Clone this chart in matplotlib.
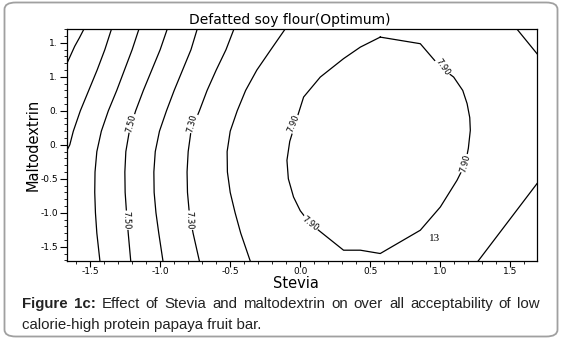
import matplotlib
matplotlib.use("Agg")
import matplotlib.pyplot as plt
from matplotlib.patches import FancyBboxPatch
from matplotlib.ticker import MultipleLocator, FixedLocator, FixedFormatter

# ---- data ----
title = "Defatted soy flour(Optimum)"
x_label = "Stevia"
y_label = "Maltodextrin"

x_ticks = [-1.5, -1.0, -0.5, 0.0, 0.5, 1.0, 1.5]
x_tick_labels = ["-1.5", "-1.0", "-0.5", "0.0", "0.5", "1.0", "1.5"]
y_ticks = [1.5, 1.0, 0.5, 0.0, -0.5, -1.0, -1.5]
y_tick_labels = ["1.", "1.", "0.", "0.", "-0.5", "-1.0", "-1.5"]

# contour lines (x = Stevia, y = Maltodextrin)
line1_x = [-1.545, -1.575, -1.61, -1.665]
line1_y = [1.70, 1.58, 1.45, 1.20]
line2_x = [-1.348, -1.395, -1.45, -1.51, -1.57, -1.62, -1.645, -1.665]
line2_y = [1.70, 1.40, 1.10, 0.80, 0.50, 0.20, 0.00, -0.08]
curve_y = [1.70, 1.40, 1.10, 0.80, 0.50, 0.20, -0.10, -0.40, -0.70, -1.00, -1.30, -1.71]
line3_x = [-1.152, -1.20, -1.255, -1.31, -1.37, -1.42, -1.452, -1.465, -1.467, -1.462, -1.452, -1.43]
line4_x = [-0.95, -1.00, -1.06, -1.12, -1.175, -1.22, -1.245, -1.252, -1.25, -1.24, -1.228, -1.21]
line5_x = [-0.736, -0.78, -0.84, -0.90, -0.955, -1.005, -1.035, -1.045, -1.043, -1.03, -1.01, -0.98]
line6_x = [-0.474, -0.53, -0.60, -0.665, -0.72, -0.78, -0.80, -0.808, -0.805, -0.792, -0.765, -0.72]
line7_x = [-0.109, -0.21, -0.31, -0.39, -0.45, -0.50, -0.522, -0.52, -0.50, -0.465, -0.425, -0.357]
ring_x = [0.571, 0.857, 1.0, 1.095, 1.16, 1.191, 1.21, 1.214, 1.20, 1.179, 1.119, 1.0, 0.857,
          0.571, 0.429, 0.309, 0.071, 0.0, -0.048, -0.085, -0.095, -0.075, -0.036, 0.024,
          0.143, 0.309, 0.429, 0.571]
ring_y = [1.585, 1.488, 1.144, 0.997, 0.80, 0.606, 0.40, 0.213, -0.05, -0.276, -0.522, -0.915, -1.257,
          -1.60, -1.551, -1.551, -1.159, -0.97, -0.768, -0.50, -0.228, 0.05, 0.312, 0.703,
          0.997, 1.268, 1.438, 1.585]
corner_ur_x = [1.548, 1.69]
corner_ur_y = [1.70, 1.341]
corner_lr_x = [1.69, 1.27]
corner_lr_y = [-0.571, -1.71]

label_texts = ["7.50", "7.50", "7.30", "7.30", "7.90", "7.90", "7.90", "7.90"]
label_x = [-1.205, -1.242, -0.775, -0.792, -0.05, 0.071, 1.02, 1.18]
label_y = [0.316, -1.11, 0.316, -1.11, 0.312, -1.159, 1.144, -0.276]
label_rot = [76, -88, 76, -88, 68, -38, -55, 75]

point_text = "13"
point_x = 0.96
point_y = -1.38

caption_bold = ["Figure", "1c:"]
caption_line1 = "Effect of Stevia and maltodextrin on over all acceptability of low"
caption_line2 = "calorie-high protein papaya fruit bar."

# ---- figure ----
W, H = 563, 341
fig = plt.figure(figsize=(W / 100, H / 100), dpi=100)
fig.patch.set_facecolor("white")

border = FancyBboxPatch((4.5 / W, 4.5 / H), (553 / W), (334 / H),
                        boxstyle="round,pad=0,rounding_size=0.02",
                        transform=fig.transFigure, facecolor="none",
                        edgecolor="#a0a0a0", linewidth=1.3)
fig.add_artist(border)

ax_h = (261 - 29.3) / H
ax = fig.add_axes([67 / W, 1 - 261 / H, 470 / W, ax_h])
ax.set_xlim(-1.665, 1.69)
ax.set_ylim(-1.71, 1.70)

lines = [(line1_x, line1_y), (line2_x, line2_y), (line3_x, curve_y),
         (line4_x, curve_y), (line5_x, curve_y), (line6_x, curve_y),
         (line7_x, curve_y), (ring_x, ring_y),
         (corner_ur_x, corner_ur_y), (corner_lr_x, corner_lr_y)]
for lx, ly in lines:
    ax.plot(lx, ly, color="black", lw=0.9, solid_joinstyle="round")

for t, x, y, r in zip(label_texts, label_x, label_y, label_rot):
    ax.text(x, y, t, rotation=r, rotation_mode="anchor", ha="center", va="center",
            fontsize=6, family="DejaVu Sans",
            bbox=dict(facecolor="white", edgecolor="none", pad=0.3))

ax.text(point_x, point_y, point_text, fontsize=8, family="Liberation Serif",
        ha="center", va="center")

ax.xaxis.set_major_locator(FixedLocator(x_ticks))
ax.xaxis.set_major_formatter(FixedFormatter(x_tick_labels))
ax.yaxis.set_major_locator(FixedLocator(y_ticks))
ax.yaxis.set_major_formatter(FixedFormatter(y_tick_labels))
ax.xaxis.set_minor_locator(MultipleLocator(0.1))
ax.yaxis.set_minor_locator(MultipleLocator(0.1))
ax.tick_params(which="major", direction="out", length=5, width=0.8,
               labelsize=6.5, pad=1.5, colors="black")
ax.tick_params(axis="x", which="major", length=4, pad=0.3)
ax.tick_params(which="minor", direction="out", length=2.5, width=0.6)
for lab in ax.get_xticklabels() + ax.get_yticklabels():
    lab.set_family("DejaVu Sans")
for s in ax.spines.values():
    s.set_linewidth(0.9)

ax.set_title(title, fontsize=10, family="DejaVu Sans", pad=4, x=0.474)
ax.set_xlabel(x_label, fontsize=10.5, family="DejaVu Sans", labelpad=0)
ax.xaxis.set_label_coords(0.487, -(276 - 261) / (ax_h * H))
ax.set_ylabel(y_label, fontsize=10.5, family="DejaVu Sans", labelpad=0)

# ---- caption: first line justified, second line left aligned ----
cap_fs = 10.8
cap_color = "#222222"
renderer = fig.canvas.get_renderer()
words = [(w, "bold") for w in caption_bold] + [(w, "normal") for w in caption_line1.split()]
x0, x1 = 22, 540
y1 = 1 - 304 / H
texts = []
widths = []
for w, wt in words:
    t = fig.text(0, y1, w, fontsize=cap_fs, family="Liberation Sans", fontweight=wt,
                 va="center", ha="left", color=cap_color)
    texts.append(t)
    widths.append(t.get_window_extent(renderer=renderer).width)
gap = (x1 - x0 - sum(widths)) / (len(words) - 1)
xpos = x0
for t, wdt in zip(texts, widths):
    t.set_x(xpos / W)
    xpos += wdt + gap

fig.text(22 / W, 1 - 325 / H, caption_line2, fontsize=cap_fs, family="Liberation Sans",
         va="center", ha="left", color=cap_color)

fig.savefig("out.png", dpi=100, facecolor="white")
